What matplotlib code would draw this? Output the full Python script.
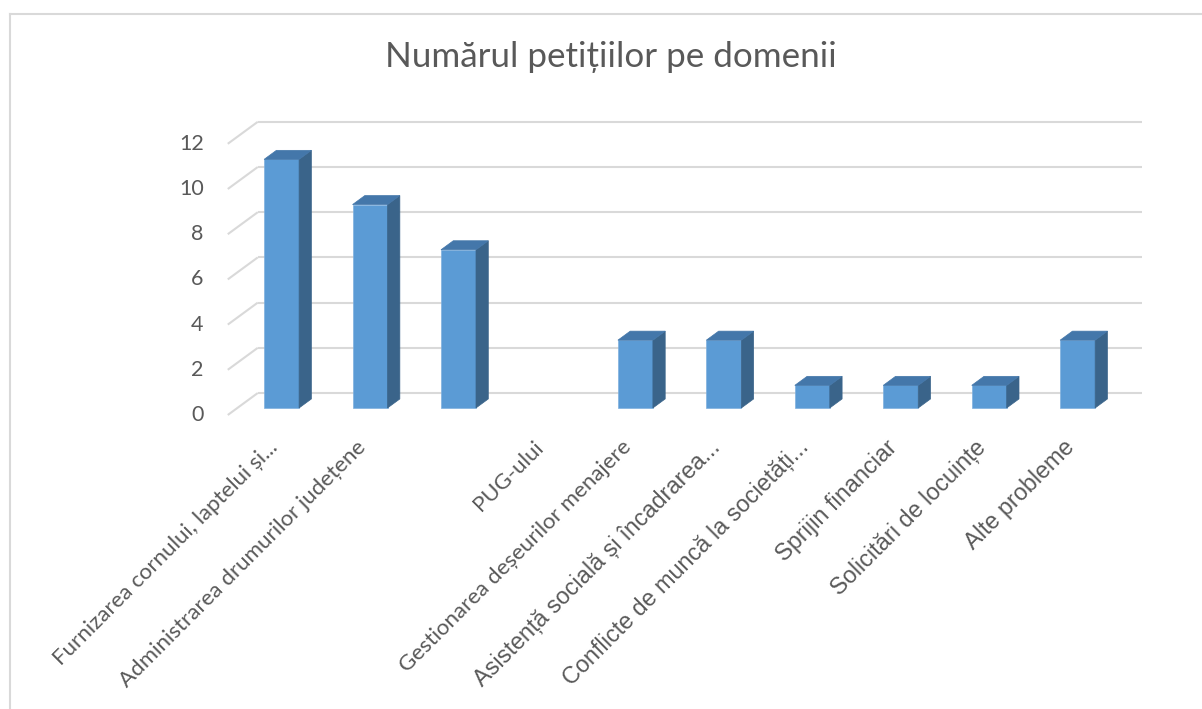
import matplotlib
matplotlib.use("Agg")
import matplotlib.pyplot as plt
from matplotlib.patches import Polygon
from matplotlib.lines import Line2D

# ---------------- data ----------------
title = "Numărul petițiilor pe domenii"
categories = [
    "Furnizarea cornului, laptelui și...",
    "Administrarea drumurilor județene",
    "",
    "PUG-ului",
    "Gestionarea deșeurilor menajere",
    "Asistență socială și încadrarea...",
    "Conflicte de muncă la societăți...",
    "Sprijin financiar",
    "Solicitări de locuințe",
    "Alte probleme",
]
values = [11, 9, 7, 0, 3, 3, 1, 1, 1, 3]
label_fonts = ["Lato", "Lato", "Lato", "Lato", "Lato",
               "Liberation Sans", "Liberation Sans", "Liberation Sans",
               "Liberation Sans", "Liberation Sans"]
yticks = [0, 2, 4, 6, 8, 10, 12]

# ---------------- style / geometry ----------------
W, H = 1202, 709
PX_X = 88.45      # pixels per category
PX_Y = 22.6       # pixels per unit value
X0_PX = 272       # pixel of category 0 (front plane)
Y0_PX = 415       # pixel of value 0 (front plane)
DX = 30 / PX_X    # depth offset in x (data units)
DY = 22 / PX_Y    # depth offset in y (data units)
D0, D1 = 0.32, 0.73  # bar front / back depth fractions
BW = 35 / PX_X    # bar width

FRONT = "#5B9BD5"
SIDE = "#3A648A"
TOP = "#4477AA"
GRID = "#D9D9D9"
TXT = "#595959"

fig = plt.figure(figsize=(W / 100, H / 100), dpi=100)
ax = fig.add_axes([0, 0, 1, 1])
ax.set_xlim(-X0_PX / PX_X, (W - X0_PX) / PX_X)
ax.set_ylim((Y0_PX - H) / PX_Y, Y0_PX / PX_Y)
ax.axis("off")

# chart border (left + top)
fig.add_artist(Line2D([10 / W, 10 / W], [0, 1 - 14 / H], transform=fig.transFigure,
                      color=GRID, lw=1.5))
fig.add_artist(Line2D([10 / W, 1], [1 - 14 / H, 1 - 14 / H], transform=fig.transFigure,
                      color=GRID, lw=1.5))

# walls gridlines
n = len(categories)
xl = -0.5
xr = n - 0.5
for v in yticks:
    ax.plot([xl, xl + DX], [v, v + DY], color=GRID, lw=1.5, zorder=1,
            solid_capstyle="butt")
    ax.plot([xl + DX, xr + DX], [v + DY, v + DY], color=GRID, lw=1.5, zorder=1,
            solid_capstyle="butt")
    ax.text(xl - 0.272, v, str(v), ha="right", va="center", fontsize=15.5,
            color=TXT, family="Lato")

# bars
xs = list(range(n))
fx = [x + D0 * DX for x in xs]
edges = ["#7FB0DE" if v > 0 else "none" for v in values]
ax.bar(fx, values, width=BW, bottom=D0 * DY, color=FRONT, zorder=3,
       edgecolor=edges, linewidth=0.5)
dd = (D1 - D0)
for x, v in zip(fx, values):
    if v <= 0:
        continue
    r = x + BW / 2
    l = x - BW / 2
    b = D0 * DY
    side = [(r, b), (r + dd * DX, b + dd * DY), (r + dd * DX, b + v + dd * DY), (r, b + v)]
    top = [(l, b + v), (l + dd * DX, b + v + dd * DY), (r + dd * DX, b + v + dd * DY), (r, b + v)]
    ax.add_patch(Polygon(side, closed=True, facecolor=SIDE, edgecolor=SIDE, lw=0.5, zorder=3))
    ax.add_patch(Polygon(top, closed=True, facecolor=TOP, edgecolor=TOP, lw=0.5, zorder=3))

# category labels
for x, lab, fam in zip(xs, categories, label_fonts):
    if not lab:
        continue
    ax.text(x + 0.03, -1.28, lab, rotation=45, rotation_mode="anchor",
            ha="right", va="center", fontsize=16.0 if fam == "Lato" else 16.8,
            color=TXT, family=fam)

# title
fig.text(611 / W, 1 - 57 / H, title, ha="center", va="center", fontsize=25.2,
         color=TXT, family="Lato")

fig.savefig("out.png", dpi=100)
